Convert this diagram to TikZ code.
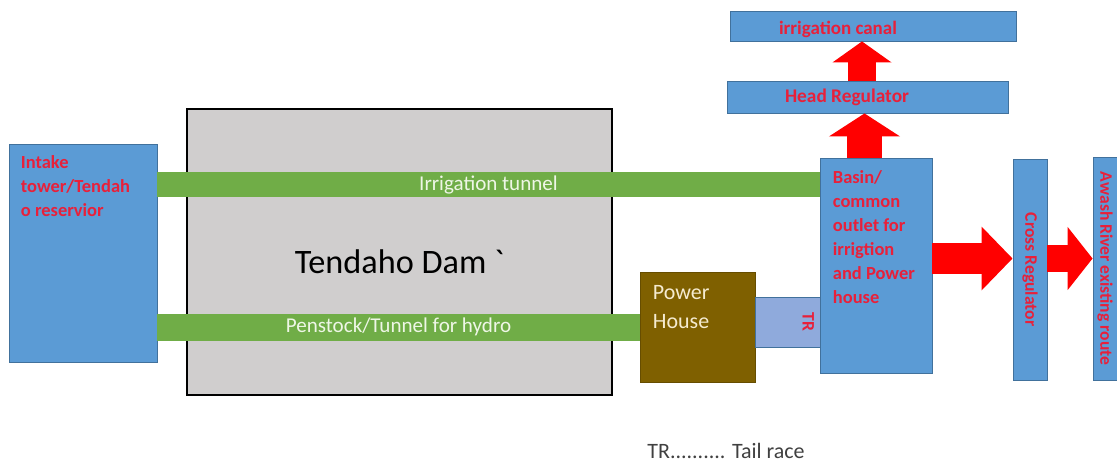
\documentclass[tikz,border=0pt]{standalone}
\usepackage{fontspec}
\setmainfont{Carlito}
\usetikzlibrary{arrows.meta,positioning,calc}
\usepackage{xcolor}

\definecolor{boxblue}{HTML}{5B9BD5}
\definecolor{edgeblue}{HTML}{41719C}
\definecolor{tunnelgreen}{HTML}{70AD47}
\definecolor{damgray}{HTML}{D0CECE}
\definecolor{phbrown}{HTML}{7F6000}
\definecolor{trblue}{HTML}{8FAADC}
\definecolor{labelred}{HTML}{E8203A}
\definecolor{arrowred}{HTML}{FF0000}
\definecolor{palegreen}{HTML}{EEF6E6}
\definecolor{cream}{HTML}{F5EBD0}

\begin{document}
\begin{tikzpicture}[
x=0.02cm,y=-0.02cm,
bluebox/.style={rectangle,draw=edgeblue,fill=boxblue,line width=0.5pt,inner sep=0pt},
redtxt/.style={text=labelred,font=\fontsize{10.5}{13.6}\selectfont\bfseries,align=left,inner sep=0pt},
tunnel/.style={draw=tunnelgreen,line width=0.5cm},
tunneltxt/.style={text=palegreen,font=\fontsize{12}{14}\selectfont,inner sep=0pt},
fatarrow/.style={draw=arrowred,fill=arrowred}
]
\useasboundingbox (0,0) rectangle (1117,464);
\clip (0,0) rectangle (1117,464);

% dam and reservoir
\node[rectangle,draw=black,fill=damgray,line width=1.1pt,minimum width=8.5cm,minimum height=5.72cm] (dam) at (399.5,252) {};
\node[font=\fontsize{19.5}{22}\selectfont\addfontfeatures{Ligatures=TeXOff}] (damtxt) at ([yshift=-0.2cm]dam.center) {Tendaho Dam `};
\node[bluebox,minimum width=2.96cm,minimum height=4.36cm] (intake) at (83,253) {};
\node[redtxt,anchor=north west] (intaketxt) at ([shift={(0.24cm,-0.24cm)}]intake.north west) {Intake\\tower/Tendah\\o reservior};

% power house, tail race and basin
\node[rectangle,draw=phbrown!80!black,fill=phbrown,line width=0.5pt,minimum width=2.3cm,minimum height=2.2cm] (ph) at (697.5,327) {};
\node[anchor=north west,text=cream,font=\fontsize{12.5}{17}\selectfont,align=left,inner sep=0pt] (phtxt) at ([shift={(0.26cm,-0.26cm)}]ph.north west) {Power\\House};
\node[rectangle,draw=edgeblue,fill=trblue,line width=0.5pt,minimum width=1.3cm,minimum height=1cm,right=0pt of ph,yshift=0.1cm] (tr) {};
\node[redtxt,rotate=-90,font=\fontsize{10}{12}\selectfont\bfseries] (trtxt) at ([xshift=-0.26cm]tr.east) {TR};
\node[bluebox,minimum width=2.24cm,minimum height=4.3cm] (basin) at (876,265.5) {};
\node[redtxt,anchor=north west] (basintxt) at ([shift={(0.26cm,-0.26cm)}]basin.north west) {Basin/\\common\\outlet for\\irrigtion\\and Power\\house};

% tunnels
\draw[tunnel] ([yshift=1.37cm]intake.east) -- node[tunneltxt]{Irrigation tunnel} ([yshift=1.37cm]intake.east -| basin.west);
\draw[tunnel,line width=0.54cm] (intake.east |- ph.west) -- node[tunneltxt]{Penstock/Tunnel for hydro} (ph.west);

% regulators and canal
\node[bluebox,minimum width=5.62cm,minimum height=0.64cm] (headreg) at (867.5,97) {};
\node[redtxt,font=\fontsize{11}{13}\selectfont\bfseries] (headregtxt) at ([xshift=-0.41cm]headreg.center) {Head Regulator};
\node[bluebox,minimum width=5.72cm,minimum height=0.6cm] (canal) at (873,26) {};
\node[redtxt,font=\fontsize{10.8}{13}\selectfont\bfseries] (canaltxt) at ([xshift=-0.7cm,yshift=-0.06cm]canal.center) {irrigation canal};
\node[bluebox,minimum width=0.68cm,minimum height=4.42cm] (cross) at (1030,269.5) {};
\node[redtxt,rotate=-90,font=\fontsize{10}{12}\selectfont\bfseries] (crosstxt) at (cross.center) {Cross Regulator};
\node[bluebox,minimum width=0.74cm,minimum height=4.46cm] (awash) at (1111.5,268.5) {};
\node[redtxt,rotate=-90,font=\fontsize{10}{12}\selectfont\bfseries] (awashtxt) at ([xshift=-0.13cm]awash.center) {Awash River existing route};

% flow arrows
\draw[arrowred,line width=0.7cm,-{Triangle[length=0.46cm,width=1.4cm]}] ([xshift=-0.23cm]basin.north) -- ([xshift=-0.23cm]basin.north |- headreg.south);
\draw[arrowred,line width=0.56cm,-{Triangle[length=0.42cm,width=1.16cm]}] ([xshift=-0.11cm]headreg.north) -- ([xshift=-0.11cm]headreg.north |- canal.south);
\draw[arrowred,line width=0.62cm,-{Triangle[length=0.62cm,width=1.24cm]}] ([yshift=0.14cm]basin.east) -- ([yshift=0.14cm]basin.east -| cross.west);
\draw[arrowred,line width=0.54cm,-{Triangle[length=0.5cm,width=1.24cm]}] ([yshift=0.14cm]basin.east -| cross.east) -- ([yshift=0.14cm]basin.east -| awash.west);

% note
\node[text=black!75,font=\fontsize{12.5}{15}\selectfont] (trnote) at (726,451) {TR.......... Tail race};
\end{tikzpicture}
\end{document}
